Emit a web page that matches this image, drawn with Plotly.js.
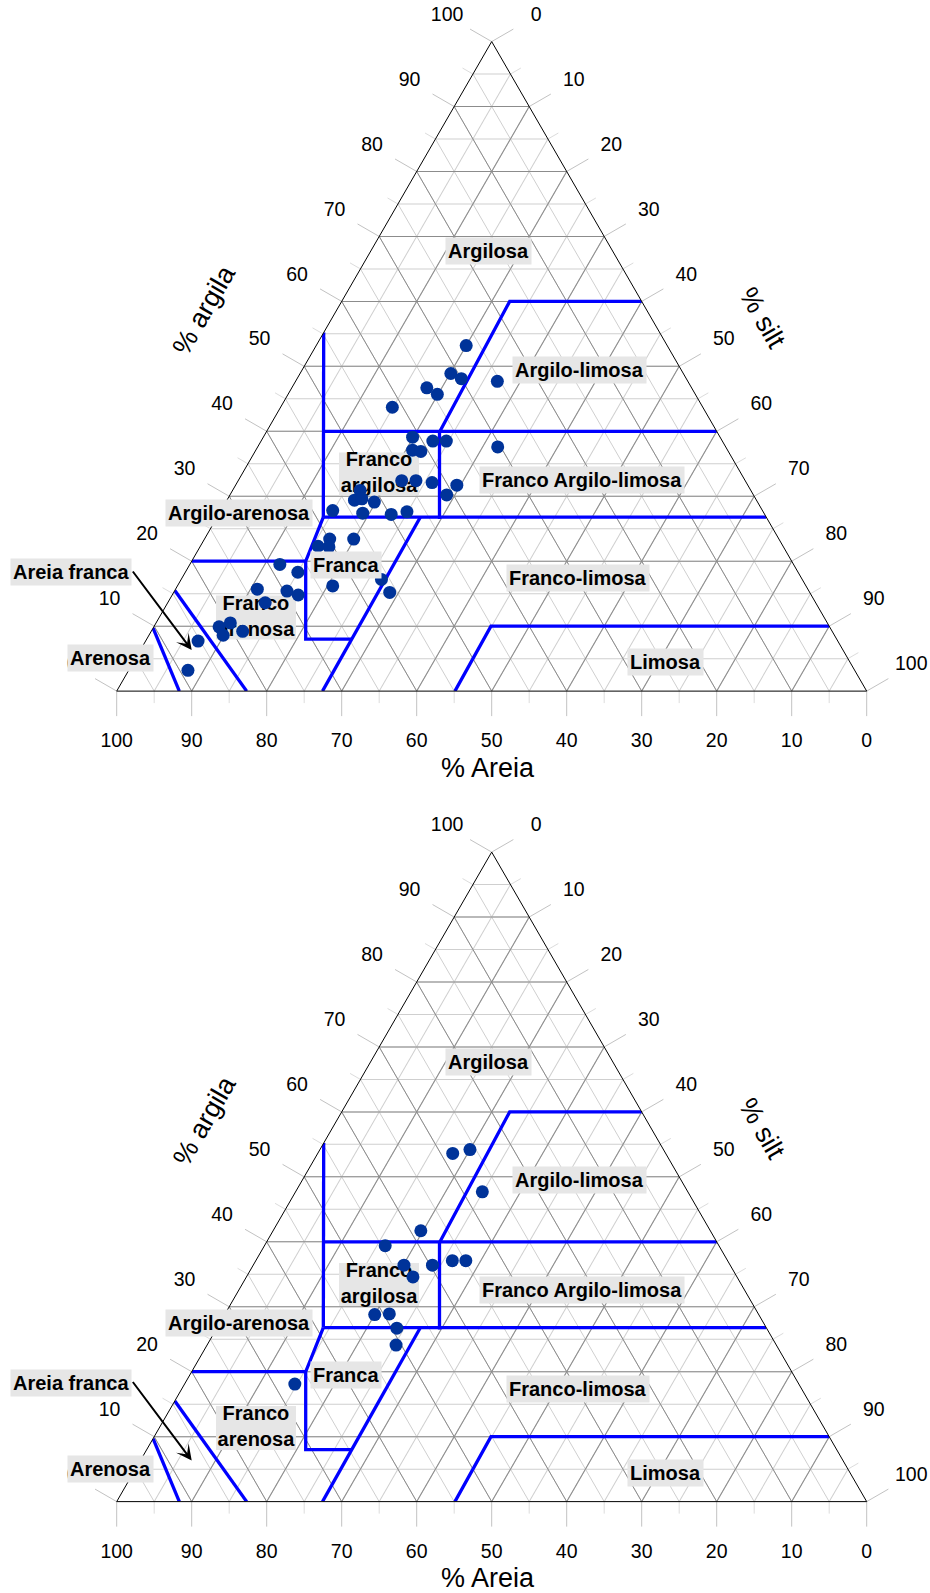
<!DOCTYPE html>
<html><head><meta charset="utf-8">
<script src="https://cdn.plot.ly/plotly-3.0.1.min.js"></script>
<style>html,body{margin:0;padding:0;background:#fff}#chart{width:930px;height:1593px}</style>
</head><body><div id="chart"></div>
<script>
// ---------- data: chart 1 (top) ----------
const argila1 = [53.2,48.9,48.1,47.7,46.7,45.7,43.7,39.1,38.5,38.5,37.6,37.1,36.9,32.4,32.4,32.1,31.7,30.2,30.9,29.4,29.6,29.1,27.8,27.4,27.2,27.6,22.3,23.4,22.2,23.4,19.5,18.3,15.7,15.4,14.8,16.2,17.2,15.2,13.6,9.9,10.5,8.6,9.2,7.7,3.2];
const areia1  = [26.8,31.0,30.0,25.4,35.3,34.4,41.4,41.0,38.6,36.8,30.4,42.0,41.0,45.8,43.9,41.9,38.8,40.9,52.1,53.6,52.5,51.1,57.3,53.5,49.8,47.5,62.0,59.9,60.6,56.7,68.5,66.7,73.4,69.6,68.4,63.1,56.1,56.0,73.4,81.4,79.6,81.5,78.6,85.3,88.9];
const silte1  = [20.0,20.1,21.9,26.9,18.0,19.9,14.9,19.9,22.9,24.7,32.0,20.9,22.1,21.8,23.7,26.0,29.5,28.9,17.0,17.0,17.9,19.8,14.9,19.1,23.0,24.9,15.7,16.7,17.2,19.9,12.0,15.0,10.9,15.0,16.8,20.7,26.7,28.8,13.0,8.7,9.9,9.9,12.2,7.0,7.9];
// ---------- data: chart 2 (bottom) ----------
const argila2 = [53.6,54.2,47.7,41.7,39.4,36.4,34.6,36.4,37.1,37.1,28.8,28.9,26.7,24.1,18.1];
const areia2  = [28.4,25.8,27.4,38.6,44.5,43.5,43.2,39.7,36.7,34.9,51.2,49.2,49.3,50.7,67.2];
const silte2  = [18.0,20.0,24.9,19.7,16.1,20.1,22.2,23.9,26.2,28.0,20.0,21.9,24.0,25.2,14.7];
// ---------- texture-class boundaries (null separates segments) ----------
const limArgila = [55.2,26.8,null, 40,40,null, 26.8,26.8,null, 40,26.5,null, 40,60,60,null, 26.8,20,8,8,null, 20,20,null, 0,26.8,null, 15.5,0,null, 9.7,0,null, 0,10,10];
const limAreia  = [44.8,59.05,null, 52.45,0,null, 59.05,0,null, 36.96,43.71,null, 36.9,17.6,0,null, 59.05,64.8,70.8,64.65,null, 80,64.8,null, 72.56,46.1,null, 84.5,82.67,null, 90.3,91.65,null, 54.9,45.1,0];
const limSilte  = [0,14.15,null, 7.55,60,null, 14.15,73.2,null, 23.04,29.79,null, 23.1,22.4,40,null, 14.15,15.2,21.2,27.35,null, 0,15.2,null, 27.44,27.1,null, 0,17.33,null, 0,8.35,null, 45.1,44.9,90];
// ---------- ticks ----------
const ticksMaior = [0,10,20,30,40,50,60,70,80,90,100];
const ticksMenor = [5,15,25,35,45,55,65,75,85,95];
const gradeMenor = [0,5,10,15,20,25,30,35,40,45,50,55,60,65,70,75,80,85,90,95,100];
// ---------- class labels ----------
const classesTexto = ['Argilosa','Argilo-limosa','Franco Argilo-limosa','Franco-limosa','Limosa','Argilo-arenosa','Franca','Areia franca','Arenosa'];
const classesCaixa = ['Franco<br>argilosa','Franco<br>arenosa'];
const tituloArgila = '% argila', tituloSilte = '% silt', tituloAreia = '% Areia';

// ---------- geometry / styles ----------
const FW = 930, FH = 1593, TRI_W = 750, CX = 491.7, CY = [366.35, 1176.85], DOM_H = 700;
const TRI_H = TRI_W*Math.sqrt(3)/2, DY = CY[1]-CY[0];
const FONT = 'Liberation Sans, Arial, Helvetica, sans-serif';
const px = x => x / FW, py = y => 1 - y / FH;
function dom(k){ return {x:[(CX-TRI_W/2)/FW,(CX+TRI_W/2)/FW], y:[py(CY[k]+DOM_H/2), py(CY[k]-DOM_H/2)]}; }

function axisA(){ return {min:0, title:{text:''}, tickmode:'array', tickvals:gradeMenor, ticks:'', showticklabels:false, showgrid:true, gridcolor:'#cfcfcf', gridwidth:1, showline:false}; }
function axisB(){ return {min:0, title:{text:''}, tickmode:'array', tickvals:ticksMaior, ticks:'', showticklabels:false, showgrid:true, gridcolor:'#8c8c8c', gridwidth:1, showline:false}; }
function axisC(){ return {min:0, title:{text:''}, tickmode:'array', tickvals:ticksMaior, ticks:'', showticklabels:false, showgrid:false, showline:true, linecolor:'#000', linewidth:1}; }
function tern(k, kind){
  const f = kind==='A'?axisA:kind==='B'?axisB:axisC;
  return {domain:dom(k), sum:100, bgcolor: kind==='A'?'#fff':'rgba(0,0,0,0)', aaxis:f(), baxis:f(), caxis:f()};
}

// position on a triangle edge (pixel space of the hidden cartesian axes) for a tick value
function edgePt(k, ax, v){
  const x0 = CX - TRI_W/2, yb = CY[k] + TRI_H/2;
  if(ax==='a') return {x:x0 + TRI_W*v/200, y:yb - TRI_H*v/100, dx:-Math.sqrt(3)/2, dy:-0.5};
  if(ax==='b') return {x:x0 + TRI_W*(100-v)/100, y:yb, dx:0, dy:1};
  return {x:x0 + TRI_W/2 + TRI_W*v/200, y:yb - TRI_H + TRI_H*v/100, dx:Math.sqrt(3)/2, dy:-0.5};
}

// label box polygon (decoration) around a ternary position, size in px
function boxT(aC, cC, hw, hh){
  const s = TRI_W/100, X = cC + aC/2, dX = hw/s, dA = (hh/s)*2/Math.sqrt(3);
  const pts = [[aC+dA, X-dX],[aC+dA, X+dX],[aC-dA, X+dX],[aC-dA, X-dX],[aC+dA, X-dX]];
  const a = pts.map(p=>p[0]), c = pts.map(p=>p[1]-p[0]/2), b = a.map((v,i)=>100-v-c[i]);
  return {a,b,c};
}
const boxPos = [{a:33.41, c:18.27, hw:40, hh:21.5},{a:11.32, c:12.91, hw:40, hh:22}];

const traces = [];
// ticks & tick labels on hidden cartesian axes (drawn under the ternary layers)
[0,1].forEach(k=>{
  [['a',ticksMenor,12,'#dcdcdc'],['b',ticksMenor,12,'#dcdcdc'],['c',ticksMenor,12,'#dcdcdc'],
   ['a',ticksMaior,25,'#c2c2c2'],['b',ticksMaior,25,'#c2c2c2'],['c',ticksMaior,25,'#c2c2c2']].forEach(([ax,vals,len,col])=>{
    const x=[], y=[];
    vals.forEach(v=>{ const p=edgePt(k,ax,v); x.push(p.x, p.x+p.dx*len, null); y.push(p.y, p.y+p.dy*len, null); });
    traces.push({type:'scatter', x, y, mode:'lines', line:{color:col, width:1}, hoverinfo:'skip', showlegend:false});
  });
  ['a','b','c'].forEach(ax=>{
    const x=[], y=[], t=[];
    ticksMaior.forEach(v=>{ const p=edgePt(k,ax,v); const d = 51.5; x.push(p.x+p.dx*d); y.push(p.y+p.dy*d); t.push(String(v)); });
    traces.push({type:'scatter', x, y, text:t, mode:'text', textposition:'middle center', textfont:{family:FONT, size:19.5, color:'#000'}, hoverinfo:'skip', showlegend:false, cliponaxis:false});
  });
});

['ternary','ternary2','ternary4','ternary5'].forEach(s=>traces.push({type:'scatterternary', subplot:s, a:[0], b:[0], c:[100], mode:'markers', marker:{opacity:0, size:1}, hoverinfo:'skip', showlegend:false}));

function chartTraces(sub, A, B, C){
  boxPos.forEach((p,i)=>{
    const bx = boxT(p.a, p.c, p.hw, p.hh);
    traces.push({type:'scatterternary', subplot:sub, a:bx.a, b:bx.b, c:bx.c, mode:'lines', fill:'toself', fillcolor:'#e6e6e6', line:{width:0, color:'rgba(0,0,0,0)'}, hoverinfo:'skip', showlegend:false});
    traces.push({type:'scatterternary', subplot:sub, a:[p.a], b:[100-p.a-p.c], c:[p.c], mode:'text', text:[classesCaixa[i]], textposition:'middle center', textfont:{family:FONT, size:20, weight:'bold', color:'#000'}, hoverinfo:'skip', showlegend:false});
  });
  traces.push({type:'scatterternary', subplot:sub, a:limArgila, b:limAreia, c:limSilte, mode:'lines', connectgaps:false, line:{color:'#0000ff', width:3.3}, hoverinfo:'skip', showlegend:false});
  traces.push({type:'scatterternary', subplot:sub, a:A, b:B, c:C, mode:'markers', marker:{size:13, color:'#003399'}, showlegend:false});
}
chartTraces('ternary3', argila1, areia1, silte1);
chartTraces('ternary6', argila2, areia2, silte2);

// annotations (paper px)
const labelPos = [[488.3,251.5],[579.7,369.7],[582.2,479.7],[577.8,578.3],[665.5,662],[239.3,512.8],[346,564.7],[71,572],[110.8,658.3]];
const annotations = [];
[0, DY].forEach(off=>{
  classesTexto.forEach((t,i)=>annotations.push({xref:'paper', yref:'paper', x:px(labelPos[i][0]), y:py(labelPos[i][1]+off), text:t, showarrow:false, xanchor:'center', yanchor:'middle', bgcolor:'#e6e6e6', borderpad:2, font:{family:FONT, size:20, weight:'bold', color:'#000'}}));
  annotations.push({xref:'paper', yref:'paper', x:px(204), y:py(310+off), text:tituloArgila, textangle:-60, showarrow:false, xanchor:'center', yanchor:'middle', font:{family:FONT, size:27, color:'#000'}});
  annotations.push({xref:'paper', yref:'paper', x:px(762.5), y:py(318+off), text:tituloSilte, textangle:60, showarrow:false, xanchor:'center', yanchor:'middle', font:{family:FONT, size:27, color:'#000'}});
  annotations.push({xref:'paper', yref:'paper', x:px(488), y:py(767.5+off), text:tituloAreia, showarrow:false, xanchor:'center', yanchor:'middle', font:{family:FONT, size:27, color:'#000'}});
  annotations.push({xref:'paper', yref:'paper', x:px(191.7), y:py(650+off), ax:-60, ay:-80, text:'', showarrow:true, arrowhead:3, arrowsize:1.3, arrowwidth:2, arrowcolor:'#000', standoff:0});
});

const layout = {
  width:FW, height:FH, margin:{l:0,r:0,t:0,b:0,pad:0}, paper_bgcolor:'#fff', plot_bgcolor:'#fff', showlegend:false,
  font:{family:FONT, color:'#000'},
  xaxis:{range:[0,FW], domain:[0,1], visible:false, fixedrange:true},
  yaxis:{range:[FH,0], domain:[0,1], visible:false, fixedrange:true},
  ternary:tern(0,'A'), ternary2:tern(0,'B'), ternary3:tern(0,'C'),
  ternary4:tern(1,'A'), ternary5:tern(1,'B'), ternary6:tern(1,'C'),
  annotations
};
Plotly.newPlot('chart', traces, layout, {staticPlot:true, displayModeBar:false});
</script></body></html>
